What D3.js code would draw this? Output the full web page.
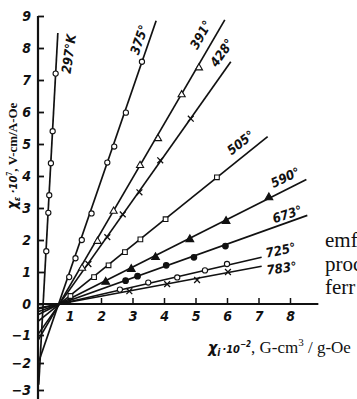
<!DOCTYPE html>
<html><head><meta charset="utf-8">
<script src="https://cdn.jsdelivr.net/npm/d3@7"></script>
<style>
html,body{margin:0;padding:0;background:#fff;}
svg{display:block;}
.num{font-family:"Liberation Sans Narrow","DejaVu Sans Condensed","DejaVu Sans",sans-serif;font-style:italic;font-weight:bold;}
.serif{font-family:"Liberation Serif","DejaVu Serif",serif;}
</style></head><body>
<svg id="c" width="357" height="399"></svg>
<script>
// ---- data ----
const temps = ["297°K","375°","391°","428°","505°","590°","673°","725°","783°"];
const markers = ["circle","circle","triangle","cross","square","triangleFilled","circleFilled","circle","cross"];
// straight fitted lines: start and end points (x, y)
const lineStart = [[0.024,-2.8],[0,-2.03],[0,-1.19],[0,-0.98],[0,-0.56],[0,-0.35],[0,-0.25],[0,-0.16],[0,-0.13]];
const lineEnd   = [[0.63,8.47],[3.75,8.85],[5.93,8.88],[6.12,7.57],[7.29,5.23],[8.52,3.89],[8.55,2.77],[7.1,1.46],[7.1,1.18]];
const pts297 = [[0.263,1.65],[0.328,2.85],[0.357,3.4],[0.41,4.4],[0.465,5.4],[0.56,7.2]];
const pts375 = [[0.99,0.84],[1.19,1.43],[1.39,2.0],[1.70,2.83],[2.2,4.42],[2.42,4.92],[2.79,5.98],[3.3,7.57]];
const pts391 = [[1.40,1.12],[1.89,1.96],[2.40,2.9],[3.24,4.33],[3.81,5.17],[4.56,6.54],[5.11,7.38]];
const pts428 = [[1.60,1.25],[2.20,2.09],[2.69,2.8],[3.22,3.49],[3.88,4.49],[4.85,5.79]];
const pts505 = [[1.03,0.25],[1.78,0.84],[2.24,1.21],[2.76,1.62],[3.25,2.02],[4.05,2.65],[5.68,3.96]];
const pts590 = [[2.15,0.69],[2.96,1.09],[3.73,1.46],[4.82,2.02],[5.97,2.59],[7.33,3.33]];
const pts673 = [[2.78,0.73],[3.16,0.87],[4.07,1.21],[4.95,1.46],[5.95,1.81]];
const pts725 = [[2.6,0.45],[3.5,0.67],[4.42,0.83],[5.3,1.05],[6.0,1.25]];
const pts783 = [[2.9,0.40],[4.1,0.62],[5.05,0.75],[6.03,1.0]];
const points = [pts297,pts375,pts391,pts428,pts505,pts590,pts673,pts725,pts783];
const xTicks = [1,2,3,4,5,6,7,8];
const yTicks = [-3,-2,-1,0,1,2,3,4,5,6,7,8,9];
const sideText = ["emf","proc","ferr"];

// ---- layout ----
const svg = d3.select("#c");
const x = d3.scaleLinear().domain([0,8]).range([38,290]);
const y = d3.scaleLinear().domain([-3,-2,-1,0,9]).range([390,363,335,304,16]);
const ink = "#111";

// axes lines
svg.append("line").attr("x1",x(0)).attr("x2",x(0)).attr("y1",y(9)).attr("y2",y(-3.35))
  .attr("stroke",ink).attr("stroke-width",2.2);
svg.append("line").attr("x1",x(0)).attr("x2",x(8.9)).attr("y1",y(0)).attr("y2",y(0))
  .attr("stroke",ink).attr("stroke-width",2);

const yAxis = d3.axisLeft(y).tickValues(yTicks).tickSizeInner(-6).tickSizeOuter(0).tickPadding(7)
  .tickFormat(d3.format("d"));
const gy = svg.append("g").attr("transform",`translate(${x(0)},0)`).call(yAxis);
gy.select(".domain").remove();
gy.selectAll("line").attr("stroke",ink).attr("stroke-width",1.8);
gy.selectAll("text").attr("class","num").attr("font-size",14).attr("fill",ink);

const xAxis = d3.axisBottom(x).tickValues(xTicks).tickSizeInner(-6).tickSizeOuter(0).tickPadding(7)
  .tickFormat(d3.format("d"));
const gx = svg.append("g").attr("transform",`translate(0,${y(0)})`).call(xAxis);
gx.select(".domain").remove();
gx.selectAll("line").attr("stroke",ink).attr("stroke-width",1.5);
gx.selectAll("text").attr("class","num").attr("font-size",14).attr("fill",ink);

// lines
temps.forEach((t,i)=>{
  svg.append("line")
    .attr("x1",x(lineStart[i][0])).attr("y1",y(lineStart[i][1]))
    .attr("x2",x(lineEnd[i][0])).attr("y2",y(lineEnd[i][1]))
    .attr("stroke",ink).attr("stroke-width",1.7);
});

// markers
const sym = {
  triangle: d3.symbol().type(d3.symbolTriangle).size(22),
  triangleFilled: d3.symbol().type(d3.symbolTriangle).size(26),
  square: d3.symbol().type(d3.symbolSquare).size(22),
  cross: d3.symbol().type(d3.symbolTimes).size(24)
};
points.forEach((arr,i)=>{
  const m = markers[i];
  const g = svg.append("g");
  arr.forEach(p=>{
    const cx = x(p[0]), cy = y(p[1]);
    if (m==="circle"||m==="circleFilled") {
      g.append("circle").attr("cx",cx).attr("cy",cy).attr("r",m==="circle"?2.6:2.8)
        .attr("fill",m==="circle"?"#fff":ink).attr("stroke",ink).attr("stroke-width",1.1);
    } else {
      g.append("path").attr("d",sym[m]()).attr("transform",`translate(${cx},${cy})`)
        .attr("fill",(m==="triangle"||m==="square")?"#fff":(m==="cross"?"none":ink))
        .attr("stroke",ink).attr("stroke-width",m==="cross"?1.3:1.1);
    }
  });
});

// temperature labels (offset from line end, rotation)
const labelDx = [11,-17,-24,-9,-27,-21,-20,19,20];
const labelDy = [21,19,15,-9,6,-2,-1,-7,2];
const labelRot = [-82,-71,-60,-55,-38,-25,-18,-12,-8];
temps.forEach((t,i)=>{
  const lx = x(lineEnd[i][0])+labelDx[i], ly = y(lineEnd[i][1])+labelDy[i];
  svg.append("text").attr("class","num").attr("font-size",13).attr("font-weight","normal")
    .attr("text-anchor","middle").attr("dominant-baseline","central")
    .attr("transform",`translate(${lx},${ly}) rotate(${labelRot[i]})`)
    .attr("fill",ink).text(t);
});

// y axis title
const yt = svg.append("text").attr("transform","translate(17,156) rotate(-90)")
  .attr("text-anchor","middle").attr("fill",ink);
yt.append("tspan").attr("class","num").attr("font-size",14).text("χ");
yt.append("tspan").attr("class","num").attr("font-size",9).attr("dy",3).text("ε");
yt.append("tspan").attr("class","num").attr("font-size",11).attr("dy",-3).text(" ·10");
yt.append("tspan").attr("class","serif").attr("font-size",8).attr("font-weight","bold").attr("dy",-5).text("7");
yt.append("tspan").attr("class","serif").attr("font-size",13).attr("font-weight","bold").attr("dy",5).text(", V-cm/A-Oe");

// x axis title
const xt = svg.append("text").attr("x",208).attr("y",353).attr("fill",ink);
xt.append("tspan").attr("class","num").attr("font-size",16).text("χ");
xt.append("tspan").attr("class","num").attr("font-size",10).attr("dy",3).text("i");
xt.append("tspan").attr("class","num").attr("font-size",11).attr("dy",-3).attr("dx",2).text("·10");
xt.append("tspan").attr("class","num").attr("font-size",8).attr("dy",-6).text("−2");
xt.append("tspan").attr("class","serif").attr("font-size",17).attr("dy",6).text(", G-cm");
xt.append("tspan").attr("class","serif").attr("font-size",11).attr("dy",-7).text("3");
xt.append("tspan").attr("class","serif").attr("font-size",17).attr("dy",7).text(" / g-Oe");

// cut-off page text on the right (cropped by the picture edge, as in the reference)
svg.selectAll("text.side").data(sideText).enter().append("text")
  .attr("class","serif").attr("x",325).attr("y",(d,i)=>247+i*23.5)
  .attr("font-size",21).attr("fill",ink).text(d=>d);
</script>
</body></html>
